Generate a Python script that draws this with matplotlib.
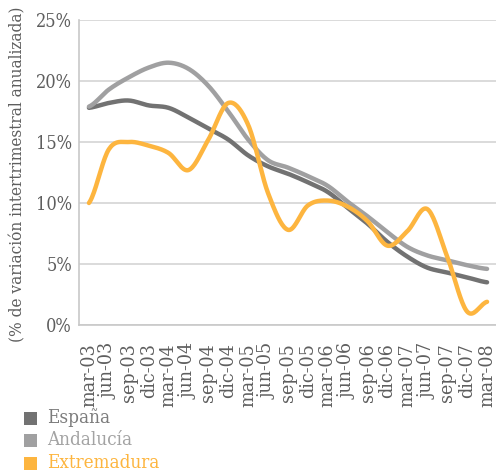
import numpy as np
import matplotlib
matplotlib.use("Agg")
import matplotlib.pyplot as plt
from matplotlib.patches import Rectangle

categories = ["mar-03", "jun-03", "sep-03", "dic-03", "mar-04", "jun-04", "sep-04", "dic-04",
              "mar-05", "jun-05", "sep-05", "dic-05", "mar-06", "jun-06", "sep-06", "dic-06",
              "mar-07", "jun-07", "sep-07", "dic-07", "mar-08"]
espana = [17.8, 18.2, 18.4, 18.0, 17.8, 17.0, 16.1, 15.2, 13.9, 13.0, 12.4, 11.7, 10.9,
          9.6, 8.3, 6.8, 5.6, 4.7, 4.3, 3.9, 3.5]
andalucia = [17.9, 19.3, 20.3, 21.1, 21.5, 21.0, 19.6, 17.5, 15.2, 13.5, 12.9, 12.2, 11.4,
             10.1, 8.9, 7.6, 6.4, 5.7, 5.3, 4.9, 4.6]
extremadura = [10.0, 14.4, 15.0, 14.7, 14.1, 12.7, 15.2, 18.2, 16.4, 10.8, 7.8, 9.8, 10.2,
               9.7, 8.5, 6.5, 7.7, 9.5, 5.6, 1.1, 1.9]
series_names = ["España", "Andalucía", "Extremadura"]
colors = ["#727272", "#a0a0a1", "#fdb53f"]
yticks = [0, 5, 10, 15, 20, 25]
ylabel = "(% de variación intertrimestral anualizada)"


def smooth(y, n=20):
    y = np.asarray(y, float)
    x = np.arange(len(y), dtype=float)
    xs, ys = [], []
    for i in range(len(y) - 1):
        p0 = y[i - 1] if i > 0 else y[i]
        p1, p2 = y[i], y[i + 1]
        p3 = y[i + 2] if i + 2 < len(y) else y[i + 1]
        t = np.linspace(0, 1, n, endpoint=False)
        c1 = p1 + (p2 - p0) / 6
        c2 = p2 - (p3 - p1) / 6
        yy = (1 - t) ** 3 * p1 + 3 * (1 - t) ** 2 * t * c1 + 3 * (1 - t) * t ** 2 * c2 + t ** 3 * p2
        xs.append(x[i] + t)
        ys.append(yy)
    xs.append([x[-1]])
    ys.append([y[-1]])
    return np.concatenate(xs), np.concatenate(ys)


plt.rcParams['font.family'] = ['DejaVu Serif']
plt.rcParams['font.stretch'] = 'condensed'
text_color = "#5e5e5e"

fig = plt.figure(figsize=(4.96, 4.72), dpi=100)
ax = fig.add_axes([79 / 496, 1 - 325 / 472, (497 - 79) / 496, (325 - 20) / 472])

for data, c in zip([espana, andalucia, extremadura], colors):
    xs, ys = smooth(data)
    ax.plot(xs, ys, color=c, lw=3.2, solid_capstyle='round', zorder=3)

ax.set_xlim(-0.5, len(categories) - 0.5)
ax.set_ylim(0, 25)
ax.set_yticks(yticks)
ax.set_yticklabels([f"{v}%" for v in yticks], fontsize=13, color=text_color)
ax.set_xticks(range(len(categories)))
ax.set_xticklabels(categories, rotation=90, fontsize=14, color=text_color)
ax.tick_params(axis='y', length=0, pad=5)
ax.tick_params(axis='x', length=0, pad=13)
ax.grid(axis='y', color="#d4d4d4", lw=1.2)
ax.set_axisbelow(True)
for s in ['top', 'right']:
    ax.spines[s].set_visible(False)
ax.spines['left'].set_color("#c8c8c8")
ax.spines['bottom'].set_color("#c8c8c8")
ax.spines['left'].set_linewidth(1.2)
ax.spines['bottom'].set_linewidth(1.2)

fig.text(18 / 496, 1 - 174 / 472, ylabel, rotation=90, ha='center', va='center',
         fontsize=12.3, color=text_color)

legend_y = [418, 440, 463]
text_cols = ["#7c7c7c", "#a3a3a3", "#fdb53f"]
for name, c, tc, yy in zip(series_names, colors, text_cols, legend_y):
    fig.add_artist(Rectangle((24 / 496, 1 - (yy + 6.5) / 472), 13 / 496, 13 / 472,
                             transform=fig.transFigure, color=c, lw=0))
    fig.text(47 / 496, 1 - yy / 472, name, ha='left', va='center', fontsize=13.5, color=tc)

fig.savefig("out.png", dpi=100)
